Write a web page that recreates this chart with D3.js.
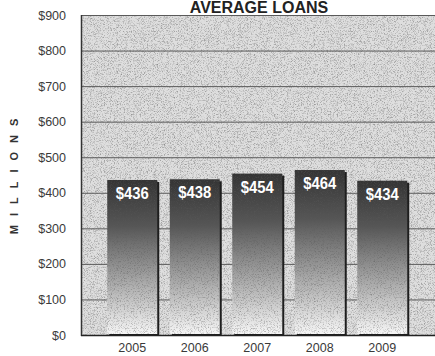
<!DOCTYPE html>
<html>
<head>
<meta charset="utf-8">
<script src="https://cdn.jsdelivr.net/npm/d3@7"></script>
<style>
  html, body { margin: 0; padding: 0; background: #fff; }
  svg { display: block; }
</style>
</head>
<body>
<svg id="chart" width="435" height="356"></svg>
<script>
// Average loans by year, in millions of dollars
const years = ["2005", "2006", "2007", "2008", "2009"];
const loans = [436, 438, 454, 464, 434];
const yTicks = [0, 100, 200, 300, 400, 500, 600, 700, 800, 900];
const titleText = "AVERAGE LOANS";
const yTitle = "MILLIONS";

const plot = { left: 81, right: 435, top: 15, bottom: 335 };

const svg = d3.select("#chart");
const defs = svg.append("defs");

// Fine stipple grain laid over a fill
function addGrain(id, dotGray, alphaScale, alphaBias) {
  const f = defs.append("filter").attr("id", id)
    .attr("x", 0).attr("y", 0).attr("width", 1).attr("height", 1)
    .attr("color-interpolation-filters", "sRGB");
  f.append("feTurbulence").attr("type", "fractalNoise")
    .attr("baseFrequency", 1.3).attr("numOctaves", 1).attr("seed", 7).attr("result", "noise");
  f.append("feColorMatrix").attr("in", "noise").attr("type", "matrix")
    .attr("values", `0 0 0 0 ${dotGray}  0 0 0 0 ${dotGray}  0 0 0 0 ${dotGray}  0 0 0 ${alphaScale} ${alphaBias}`)
    .attr("result", "dots");
  f.append("feComposite").attr("in", "dots").attr("in2", "SourceGraphic")
    .attr("operator", "in").attr("result", "clipped");
  const m = f.append("feMerge");
  m.append("feMergeNode").attr("in", "SourceGraphic");
  m.append("feMergeNode").attr("in", "clipped");
}
addGrain("grain", 0.45, -2.0, 1.05);
addGrain("barGrain", 0.35, -1.6, 0.8);

// Bar fill: dark at the top fading to pale at the base
const grad = defs.append("linearGradient").attr("id", "barGrad")
  .attr("x1", 0).attr("y1", 0).attr("x2", 0).attr("y2", 1);
grad.append("stop").attr("offset", "0%").attr("stop-color", "#343434");
grad.append("stop").attr("offset", "30%").attr("stop-color", "#565656");
grad.append("stop").attr("offset", "100%").attr("stop-color", "#f6f6f6");

const y = d3.scaleLinear().domain([0, 900]).range([plot.bottom, plot.top]);
const x = d3.scaleBand().domain(years).range([101, 413.5]).paddingInner(0.2).paddingOuter(0.1);

// Plot background
svg.append("rect")
  .attr("x", plot.left).attr("y", plot.top)
  .attr("width", plot.right - plot.left).attr("height", plot.bottom - plot.top)
  .attr("fill", "#dedede")
  .attr("filter", "url(#grain)");

// Horizontal gridlines
svg.append("g").selectAll("line").data(yTicks).join("line")
  .attr("x1", plot.left).attr("x2", plot.right)
  .attr("y1", d => y(d) + 0.5).attr("y2", d => y(d) + 0.5)
  .attr("stroke", "#5a5a5a").attr("stroke-width", 1);

// Left axis line
svg.append("line")
  .attr("x1", plot.left + 0.5).attr("x2", plot.left + 0.5)
  .attr("y1", plot.top).attr("y2", plot.bottom + 1)
  .attr("stroke", "#333").attr("stroke-width", 1.5);

// Y tick labels
const yAxis = d3.axisLeft(y).tickValues(yTicks).tickFormat(d => "$" + d).tickSize(0).tickPadding(0);
const yg = svg.append("g").attr("transform", `translate(${plot.left - 15},0)`).call(yAxis);
yg.select(".domain").remove();
yg.selectAll("text")
  .attr("font-family", "'Liberation Sans', Arial, Helvetica, sans-serif")
  .attr("font-size", 12.5).attr("fill", "#3a3a3a");

// Bars with a dark drop edge on the right
const bars = svg.append("g").selectAll("g").data(years.map((yr, i) => ({ yr, v: loans[i] }))).join("g");
bars.append("rect")
  .attr("x", d => x(d.yr) + 2).attr("y", d => y(d.v) + 2)
  .attr("width", x.bandwidth()).attr("height", d => plot.bottom - y(d.v) - 1)
  .attr("fill", "#1e1e1e");
bars.append("rect")
  .attr("x", d => x(d.yr)).attr("y", d => y(d.v))
  .attr("width", x.bandwidth()).attr("height", d => plot.bottom - y(d.v) - 1)
  .attr("fill", "url(#barGrad)")
  .attr("filter", "url(#barGrain)");
bars.append("text")
  .attr("x", d => x(d.yr) + x.bandwidth() / 2)
  .attr("y", d => y(d.v) + 19)
  .attr("text-anchor", "middle")
  .attr("font-family", "'Liberation Sans Narrow', 'Arial Narrow', 'Liberation Sans', sans-serif")
  .attr("font-weight", "bold").attr("font-size", 17)
  .attr("textLength", 33).attr("lengthAdjust", "spacingAndGlyphs")
  .attr("fill", "#fff")
  .text(d => "$" + d.v);

// Bottom axis line
svg.append("line")
  .attr("x1", plot.left).attr("x2", plot.right)
  .attr("y1", plot.bottom + 0.5).attr("y2", plot.bottom + 0.5)
  .attr("stroke", "#222").attr("stroke-width", 1.5);

// X labels
const xAxis = d3.axisBottom(x).tickSize(0).tickPadding(0);
const xg = svg.append("g").attr("transform", `translate(0,${plot.bottom + 8})`).call(xAxis);
xg.select(".domain").remove();
xg.selectAll("text")
  .attr("font-family", "'Liberation Sans', Arial, Helvetica, sans-serif")
  .attr("font-size", 12.5).attr("fill", "#3a3a3a");

// Title above the plot
svg.append("text")
  .attr("x", 259).attr("y", 12.5)
  .attr("text-anchor", "middle")
  .attr("font-family", "'Liberation Sans', Arial, Helvetica, sans-serif")
  .attr("font-weight", "bold").attr("font-size", 16)
  .attr("fill", "#222")
  .text(titleText);

// Rotated, letter-spaced axis title
svg.append("text")
  .attr("transform", "translate(18,172) rotate(-90)")
  .attr("text-anchor", "middle")
  .attr("font-family", "'Liberation Sans', Arial, Helvetica, sans-serif")
  .attr("font-weight", "bold").attr("font-size", 11)
  .attr("letter-spacing", 9)
  .attr("fill", "#333")
  .text(yTitle);
</script>
</body>
</html>
